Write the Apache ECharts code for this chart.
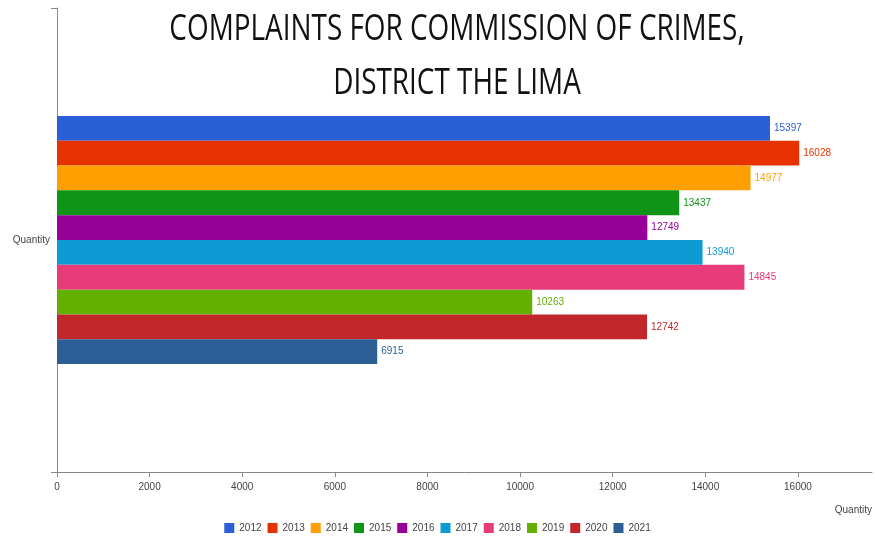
<!DOCTYPE html>
<html>
<head>
<meta charset="utf-8">
<script src="https://cdn.jsdelivr.net/npm/echarts@6/dist/echarts.min.js"></script>
<style>html,body{margin:0;padding:0;background:#fff;}#c{width:875px;height:540px;}</style>
</head>
<body>
<div id="c"></div>
<script>
const categories = ['Quantity'];
const years = ['2012','2013','2014','2015','2016','2017','2018','2019','2020','2021'];
const values = [15397, 16028, 14977, 13437, 12749, 13940, 14845, 10263, 12742, 6915];
const colors = ['#2b5fd8','#e63200','#ffa000','#0f9418','#960099','#0c9bd2','#e83c7a','#64b000','#c0262a','#2c5e96'];
const xTicks = { min: 0, max: 17600, interval: 2000 };
const titleText = 'COMPLAINTS FOR COMMISSION OF CRIMES,\nDISTRICT THE LIMA';

const narrow = '"Liberation Sans Narrow", "Arial Narrow", "Liberation Sans", Arial, sans-serif';
const chart = echarts.init(document.getElementById('c'), null, { renderer: 'canvas' });

const series = years.map((y, i) => ({
  name: y,
  type: 'bar',
  data: [values[i]],
  itemStyle: { color: colors[i] },
  barGap: '0%',
  barCategoryGap: '46.5%',
  label: {
    show: true,
    position: 'right',
    distance: 4,
    color: colors[i],
    fontSize: 10,
    fontFamily: narrow
  }
}));

chart.setOption({
  animation: false,
  backgroundColor: '#fff',
  color: colors,
  graphic: [{
    type: 'text',
    x: 457,
    y: 57,
    scaleX: 0.775,
    style: {
      text: titleText,
      fontFamily: '"Open Sans", sans-serif',
      fontSize: 36,
      lineHeight: 54,
      fill: '#111',
      align: 'center',
      verticalAlign: 'middle'
    }
  }],
  grid: { left: 57, right: 0, top: 8, bottom: 68, containLabel: false },
  legend: {
    data: years,
    bottom: 2,
    left: 'center',
    icon: 'rect',
    itemWidth: 10,
    itemHeight: 10,
    itemGap: 6,
    textStyle: { fontSize: 10, color: '#444', fontFamily: narrow }
  },
  xAxis: {
    type: 'value',
    min: xTicks.min,
    max: xTicks.max,
    interval: xTicks.interval,
    name: 'Quantity',
    nameLocation: 'end',
    nameGap: 0,
    nameTextStyle: { fontSize: 10, color: '#444', fontFamily: narrow, align: 'right', verticalAlign: 'top', padding: [33, 0, 0, 0] },
    axisLine: { show: true, lineStyle: { color: '#888' } },
    axisTick: { show: true, length: 5, lineStyle: { color: '#888' } },
    axisLabel: { fontSize: 10, color: '#444', fontFamily: narrow, margin: 10, showMaxLabel: false, formatter: v => String(v) },
    splitLine: { show: false }
  },
  yAxis: {
    type: 'category',
    data: categories,
    axisLine: { show: true, lineStyle: { color: '#888' } },
    axisTick: { show: true, length: 6, lineStyle: { color: '#888' } },
    axisLabel: { fontSize: 10, color: '#444', fontFamily: narrow, margin: 7 },
    splitLine: { show: false }
  },
  series: series
});
</script>
</body>
</html>
